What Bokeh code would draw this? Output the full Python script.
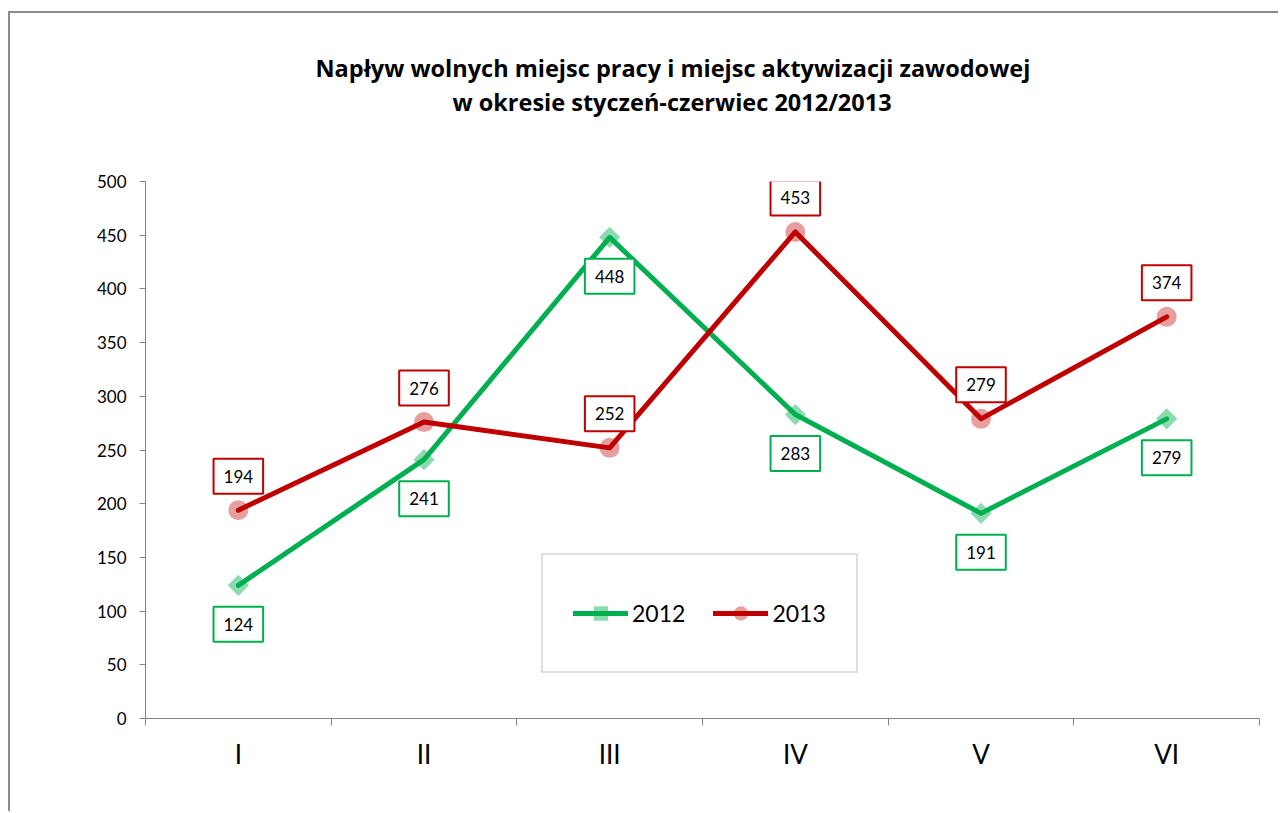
from bokeh.plotting import figure
from bokeh.models import (Range1d, FixedTicker, Legend, LegendItem, Title,
                          ColumnDataSource)
from bokeh.core.properties import value
from bokeh.embed import file_html
from bokeh.resources import INLINE

# ---- data ----
months = ["I", "II", "III", "IV", "V", "VI"]
v2012 = [124, 241, 448, 283, 191, 279]
v2013 = [194, 276, 252, 453, 279, 374]
series_names = ["2012", "2013"]
y_ticks = [0, 50, 100, 150, 200, 250, 300, 350, 400, 450, 500]
title_lines = ["Napływ wolnych miejsc pracy i miejsc aktywizacji zawodowej",
               "w okresie styczeń-czerwiec 2012/2013"]

FONT = "Lato"
TFONT = "Open Sans"
GREEN = "#00B050"
RED = "#C00000"
AXIS = "#868686"

n = len(months)
xs = [i + 0.5 for i in range(n)]

p = figure(width=1270, height=800, x_range=Range1d(0, n), y_range=Range1d(0, 500),
           output_backend="svg", toolbar_location=None,
           min_border_left=135, min_border_right=21, min_border_top=168,
           min_border_bottom=95)
p.styles = {"margin-left": "8px", "margin-top": "11px", "margin-bottom": "-30px",
            "border-left": "2px solid #8C8C8C", "border-top": "2px solid #8C8C8C"}
p.background_fill_color = "white"
p.border_fill_color = "white"
p.outline_line_color = None
p.xgrid.grid_line_color = None
p.ygrid.grid_line_color = None
p.title.text = ""

# axes
p.xaxis.ticker = FixedTicker(ticks=xs, minor_ticks=list(range(n + 1)))
p.xaxis.major_label_overrides = {x: m for x, m in zip(xs, months)}
p.xaxis.major_tick_line_color = None
p.xaxis.major_tick_out = 0
p.xaxis.major_tick_in = 0
p.xaxis.minor_tick_out = 7
p.xaxis.minor_tick_in = 0
p.xaxis.minor_tick_line_color = AXIS
p.xaxis.major_label_text_font = FONT
p.xaxis.major_label_text_font_size = "26px"
p.xaxis.major_label_text_color = "black"
p.xaxis.major_label_standoff = 12
p.xaxis.axis_line_color = AXIS

p.yaxis.ticker = FixedTicker(ticks=y_ticks)
p.yaxis.major_tick_out = 6
p.yaxis.major_tick_in = 0
p.yaxis.major_tick_line_color = AXIS
p.yaxis.minor_tick_line_color = None
p.yaxis.major_label_text_font = FONT
p.yaxis.major_label_text_font_size = "17px"
p.yaxis.major_label_text_color = "black"
p.yaxis.major_label_standoff = 13
p.yaxis.axis_line_color = AXIS

# spacer between frame and title
p.add_layout(Title(text=" ", text_font_size="1px", standoff=61), "above")

# title lines
p.add_layout(Title(text=title_lines[1], align="left", offset=307, standoff=0,
                   vertical_align="bottom", text_font=TFONT, text_font_style="bold",
                   text_font_size="23.5px", text_color="black"), "above")
p.add_layout(Title(text=title_lines[0], align="left", offset=170, standoff=0,
                   vertical_align="bottom", text_font=TFONT, text_font_style="bold",
                   text_font_size="23.5px", text_color="black"), "above")

# series
r1 = p.line(xs, v2012, line_color=GREEN, line_width=5, line_join="round", line_cap="round")
r2 = p.line(xs, v2013, line_color=RED, line_width=5, line_join="round", line_cap="round")
s1 = p.scatter(xs, v2012, marker="square", angle=0.785398, size=15,
               fill_color=GREEN, fill_alpha=0.45, line_color=None)
s2 = p.scatter(xs, v2013, marker="circle", size=20,
               fill_color=RED, fill_alpha=0.38, line_color=None)

# data labels
src12 = ColumnDataSource(dict(x=xs, y=v2012, t=[str(v) for v in v2012]))
src13 = ColumnDataSource(dict(x=xs, y=v2013, t=[str(v) for v in v2013]))
for src, col, off in ((src12, GREEN, 39), (src13, RED, -34)):
    p.text(x="x", y="y", text="t", source=src, y_offset=off,
           text_align="center", text_baseline="middle",
           text_font=value(FONT), text_font_size="17px", text_color="black",
           background_fill_color="white", border_line_color=col,
           border_line_width=2, padding=dict(left=10, right=10, top=11, bottom=11))

# legend
legend = Legend(items=[LegendItem(label=series_names[0], renderers=[r1, s1]),
                       LegendItem(label=series_names[1], renderers=[r2, s2])],
                orientation="horizontal", location=(396, 45),
                glyph_width=55, glyph_height=36, label_height=56,
                label_text_font=FONT, label_text_font_size="23px",
                label_text_color="black",
                label_standoff=4, spacing=28, padding=30, margin=0,
                border_line_color="#BFBFBF", border_line_width=2,
                background_fill_color="white", background_fill_alpha=1)
p.add_layout(legend)

open("out.html", "w").write(file_html(p, INLINE))
